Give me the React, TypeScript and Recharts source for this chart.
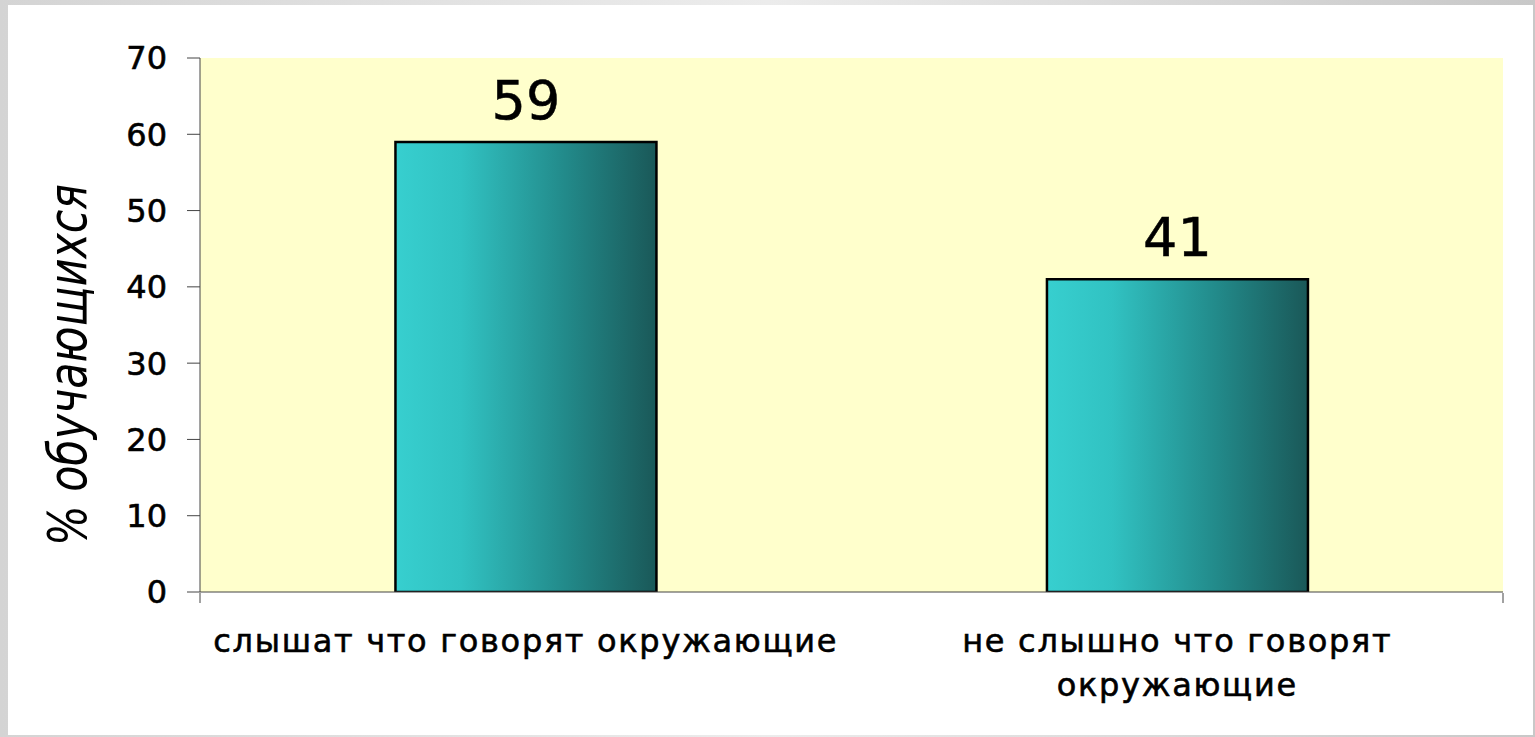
import React from 'react';
import { BarChart, Bar, XAxis, YAxis, LabelList, Label, CartesianGrid } from 'recharts';

// Values
const categories = ['слышат что говорят окружающие', 'не слышно что говорят окружающие'];
const percents = [59, 41];
const yTicks = [0, 10, 20, 30, 40, 50, 60, 70];
const edgeTicks = [0, 1, 2];
const yTitle = '% обучающихся';

const FONT = '"DejaVu Sans", Verdana, sans-serif';

const data = categories.map((name, i) => ({ name, value: percents[i] }));

// wrap long category names onto two lines, Excel style
const wrap = (text: string, max = 30): string[] => {
  if (text.length <= max) return [text];
  const cut = text.lastIndexOf(' ', max);
  return [text.slice(0, cut), text.slice(cut + 1)];
};

const CategoryTick = (props: any) => {
  const { x, y, payload } = props;
  const lines = wrap(String(payload.value));
  return (
    <g>
      {lines.map((line, i) => (
        <text
          key={i}
          x={x}
          y={y + 60 + i * 44}
          textAnchor="middle"
          fontFamily={FONT}
          fontSize={32}
          letterSpacing={1.7}
          stroke="#000"
          strokeWidth={0.6}
          fill="#000"
        >
          {line}
        </text>
      ))}
    </g>
  );
};

// condensed italic title, like the original slide
const YTitle = (props: any) => {
  const { viewBox } = props;
  const cx = viewBox.x + 67;
  const cy = viewBox.y + viewBox.height / 2 + 40;
  return (
    <text
      x={cx}
      y={cy}
      transform={`rotate(-90, ${cx}, ${cy})`}
      textAnchor="middle"
      dominantBaseline="central"
      fontFamily={FONT}
      fontStyle="italic"
      fontSize={54}
      textLength={362}
      lengthAdjust="spacingAndGlyphs"
      fill="#000"
    >
      {yTitle}
    </text>
  );
};

// tick marks sit on the category boundaries, so this axis draws only the marks
const NoTick = () => <g />;

export default function App() {
  return (
    <div
      style={{
        position: 'absolute',
        left: 0,
        top: 0,
        width: 1535,
        height: 737,
        background: 'linear-gradient(90deg, #d4d4d4, #ececec 50%, #c8c8c8)',
      }}
    >
      <div
        style={{
          position: 'absolute',
          left: 8,
          top: 5,
          width: 1525,
          height: 730,
          background: '#fff',
        }}
      />
      <div style={{ position: 'absolute', left: 0, top: 0 }}>
        <BarChart
          width={1535}
          height={737}
          data={data}
          margin={{ top: 58, right: 32, bottom: 0, left: 0 }}
          barCategoryGap="30%"
        >
          <defs>
            <linearGradient id="barFill" x1="0" y1="0" x2="1" y2="0">
              <stop offset="0%" stopColor="#37cfcf" />
              <stop offset="25%" stopColor="#31c2c2" />
              <stop offset="65%" stopColor="#228a8a" />
              <stop offset="100%" stopColor="#1a5858" />
            </linearGradient>
          </defs>
          <CartesianGrid xAxisId="cat" fill="#ffffcc" horizontal={false} vertical={false} />
          <XAxis
            xAxisId="cat"
            dataKey="name"
            type="category"
            height={1}
            axisLine={{ stroke: '#444', strokeWidth: 1 }}
            tickLine={false}
            tickSize={0}
            tickMargin={0}
            tick={<CategoryTick />}
            interval={0}
          />
          <XAxis
            xAxisId="edge"
            type="number"
            domain={[0, 2]}
            ticks={edgeTicks}
            tick={<NoTick />}
            axisLine={false}
            tickLine={{ stroke: '#444', strokeWidth: 1 }}
            tickSize={10}
            height={144}
          />
          <YAxis
            domain={[0, 70]}
            ticks={yTicks}
            width={200}
            allowDataOverflow
            axisLine={{ stroke: '#444', strokeWidth: 1 }}
            tickLine={{ stroke: '#444', strokeWidth: 1 }}
            tickSize={13}
            tickMargin={20}
            tick={{ fontFamily: FONT, fontSize: 32, fill: '#000', stroke: '#000', strokeWidth: 0.6 }}
          >
            <Label content={<YTitle />} />
          </YAxis>
          <Bar
            xAxisId="cat"
            dataKey="value"
            fill="url(#barFill)"
            stroke="#000"
            strokeWidth={2.5}
            isAnimationActive={false}
          >
            <LabelList
              dataKey="value"
              position="top"
              offset={23}
              fontFamily={FONT}
              fontSize={54}
              fill="#000"
              stroke="#000"
              strokeWidth={0.5}
            />
          </Bar>
        </BarChart>
      </div>
    </div>
  );
}
